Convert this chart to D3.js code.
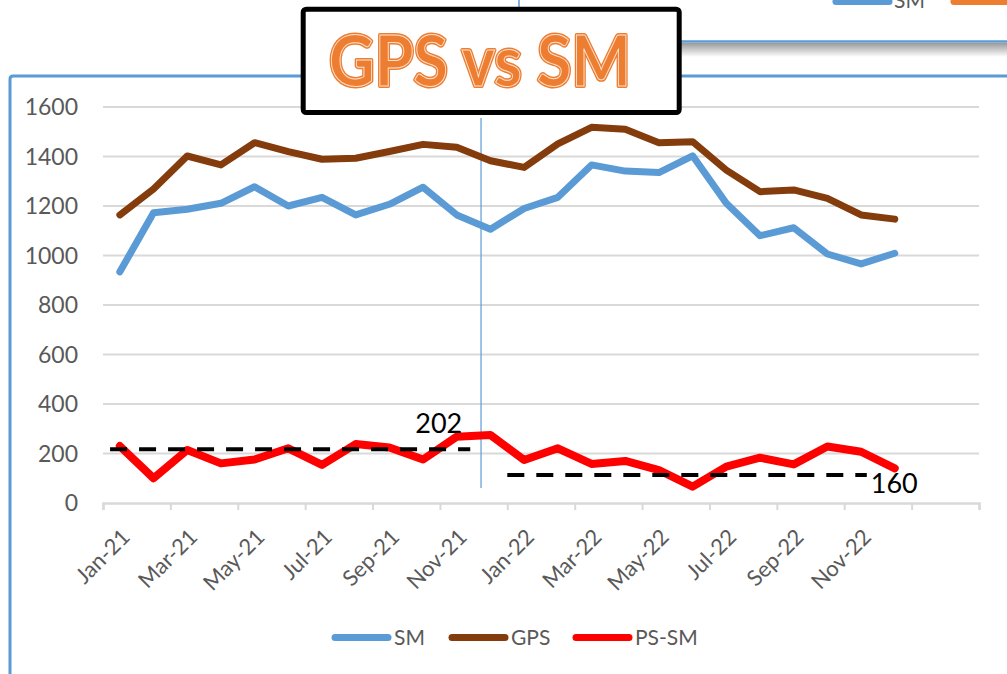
<!DOCTYPE html>
<html>
<head>
<meta charset="utf-8">
<script src="https://cdn.jsdelivr.net/npm/d3@7"></script>
<style>
  html, body { margin: 0; padding: 0; background: #ffffff; }
  svg { display: block; }
</style>
</head>
<body>
<svg id="chart" width="1007" height="674"></svg>
<script>
// ---------- data ----------
const months = ["Jan-21","Feb-21","Mar-21","Apr-21","May-21","Jun-21","Jul-21","Aug-21","Sep-21","Oct-21","Nov-21","Dec-21",
                "Jan-22","Feb-22","Mar-22","Apr-22","May-22","Jun-22","Jul-22","Aug-22","Sep-22","Oct-22","Nov-22","Dec-22"];
const smValues  = [934,1173,1187,1211,1278,1200,1235,1164,1207,1276,1164,1106,
                   1190,1235,1366,1341,1335,1403,1211,1080,1112,1006,966,1009];
const gpsValues = [1164,1269,1402,1366,1456,1420,1389,1393,1420,1449,1437,1383,
                   1356,1451,1518,1510,1456,1460,1345,1258,1265,1231,1164,1147];
const psSmValues = [230,100,214,160,176,221,154,238,224,176,268,275,
                    174,221,158,170,133,66,147,183,156,228,207,140];
const seriesNames = ["SM","GPS","PS-SM"];
const yTicks = [0,200,400,600,800,1000,1200,1400,1600];
const xTickLabels = ["Jan-21","Mar-21","May-21","Jul-21","Sep-21","Nov-21",
                     "Jan-22","Mar-22","May-22","Jul-22","Sep-22","Nov-22"];
// average reference lines (value, start/end in month units from Jan-21)
const avgLabels = ["202","160"];
const avgValues = [217,113];
const avgStart  = [0.21,12.0];
const avgEnd    = [10.9,22.67];
const titleText = "GPS vs SM";
const splitMonth = 11.22; // separator between 2021 and 2022 (month units)

// ---------- setup ----------
const svg = d3.select("#chart");
const colors = {SM:"#5B9BD5", GPS:"#843C0C", "PS-SM":"#FF0000"};
const textGrey = "#595959";
const gridGrey = "#D9D9D9";
const fontFam = "Lato, 'Open Sans', sans-serif";

const x = d3.scaleLinear().domain([0, 26]).range([103, 979]);
const y = d3.scaleLinear().domain([0, 1600]).range([503, 107]);

// ---------- background chart fragments (behind) ----------
const defs = svg.append("defs");
const grad = defs.append("linearGradient").attr("id","shadow").attr("x1",0).attr("y1",0).attr("x2",0).attr("y2",1);
grad.append("stop").attr("offset","0%").attr("stop-color","#9a9a9a");
grad.append("stop").attr("offset","100%").attr("stop-color","#ffffff");
svg.append("rect").attr("x",681).attr("y",43).attr("width",326).attr("height",14).attr("fill","url(#shadow)");
svg.append("line").attr("x1",681).attr("x2",1007).attr("y1",41.5).attr("y2",41.5)
  .attr("stroke","#5B9BD5").attr("stroke-width",2.5);
svg.append("line").attr("x1",519).attr("x2",519).attr("y1",0).attr("y2",12)
  .attr("stroke","#5B9BD5").attr("stroke-width",1.5);
// legend fragment of other chart
svg.append("line").attr("x1",836).attr("x2",889).attr("y1",1.5).attr("y2",1.5)
  .attr("stroke","#5B9BD5").attr("stroke-width",7).attr("stroke-linecap","round");
svg.append("text").attr("x",894).attr("y",8).text("SM")
  .attr("font-family",fontFam).attr("font-size",21).attr("fill",textGrey);
svg.append("line").attr("x1",954).attr("x2",1015).attr("y1",1.5).attr("y2",1.5)
  .attr("stroke","#ED7D31").attr("stroke-width",7).attr("stroke-linecap","round");

// plot frame
svg.append("path").attr("d","M10,674 L10,79 Q10,76 13,76 L1007,76")
  .attr("fill","none").attr("stroke","#5B9BD5").attr("stroke-width",3);

// ---------- gridlines ----------
svg.append("g").selectAll("line").data(yTicks.filter(d => d > 0)).join("line")
  .attr("x1", x(0)).attr("x2", x(26))
  .attr("y1", d => y(d)).attr("y2", d => y(d))
  .attr("stroke", gridGrey).attr("stroke-width", 2);

// y axis labels
svg.append("g").selectAll("text").data(yTicks).join("text")
  .attr("x", 78).attr("y", d => y(d)).attr("dy","0.35em")
  .attr("text-anchor","end")
  .attr("font-family",fontFam).attr("font-size",23).attr("fill",textGrey)
  .text(d => d);

// x axis line and ticks
const xAxis = d3.axisBottom(x).tickValues(d3.range(0, 27, 2)).tickSize(7).tickFormat("");
const gx = svg.append("g").attr("transform", `translate(0,${y(0)})`).call(xAxis);
gx.select(".domain").attr("stroke", gridGrey).attr("stroke-width", 2.5);
gx.selectAll(".tick line").attr("stroke", gridGrey).attr("stroke-width", 2);

// x labels
svg.append("g").selectAll("text").data(xTickLabels).join("text")
  .attr("transform", (d,i) => `translate(${x(i*2 + 0.5) + 6},${533}) rotate(-45)`)
  .attr("text-anchor","end").attr("dy","0.35em")
  .attr("font-family",fontFam).attr("font-size",22).attr("fill",textGrey)
  .text(d => d);

// separator line
svg.append("line").attr("x1", x(splitMonth)).attr("x2", x(splitMonth))
  .attr("y1", 118).attr("y2", 488)
  .attr("stroke","#5B9BD5").attr("stroke-width",1.2);

// ---------- series ----------
const line = d3.line().x((d,i) => x(i + 0.5)).y(d => y(d));
const series = [
  {name:"SM", values: smValues, w:7},
  {name:"GPS", values: gpsValues, w:7},
  {name:"PS-SM", values: psSmValues, w:8}
];
svg.append("g").selectAll("path").data(series).join("path")
  .attr("d", d => line(d.values))
  .attr("fill","none").attr("stroke", d => colors[d.name]).attr("stroke-width", d => d.w)
  .attr("stroke-linejoin","round").attr("stroke-linecap","round");

// ---------- average dashed lines ----------
avgValues.forEach((v, i) => {
  svg.append("line")
    .attr("x1", x(avgStart[i])).attr("x2", x(avgEnd[i]))
    .attr("y1", y(v)).attr("y2", y(v))
    .attr("stroke","#000").attr("stroke-width",4).attr("stroke-dasharray","17,12");
  const above = i === 0;
  svg.append("text")
    .attr("x", above ? x(avgEnd[i]) - 8 : x(avgEnd[i]) + 4)
    .attr("y", above ? y(v) - 16 : y(v) + 18)
    .attr("text-anchor", above ? "end" : "start")
    .attr("font-family",fontFam).attr("font-size",27).attr("fill","#000")
    .text(avgLabels[i]);
});

// ---------- legend ----------
const legendX = [332, 449, 573];
const lg = svg.append("g");
seriesNames.forEach((n, i) => {
  lg.append("line").attr("x1", legendX[i]+3).attr("x2", legendX[i]+56)
    .attr("y1", 637.5).attr("y2", 637.5)
    .attr("stroke", colors[n]).attr("stroke-width", 7).attr("stroke-linecap","round");
  lg.append("text").attr("x", legendX[i]+62).attr("y", 637.5).attr("dy","0.36em")
    .attr("font-family",fontFam).attr("font-size",21).attr("fill",textGrey).text(n);
});

// ---------- title box ----------
svg.append("rect").attr("x",303.2).attr("y",9.2).attr("width",376).attr("height",103.3)
  .attr("rx",3).attr("fill","#fff").attr("stroke","#000").attr("stroke-width",5);
const tt = svg.append("g").attr("font-family", fontFam).attr("font-weight",700).attr("font-size",71);
tt.append("text").attr("x",329).attr("y",86).attr("textLength",302).attr("lengthAdjust","spacingAndGlyphs")
  .attr("fill","#ED7D31").attr("stroke","#ED7D31").attr("stroke-width",4).attr("stroke-linejoin","round")
  .text(titleText);
tt.append("text").attr("x",329).attr("y",86).attr("textLength",302).attr("lengthAdjust","spacingAndGlyphs")
  .attr("fill","#ED7D31").attr("stroke","#FBE0CC").attr("stroke-width",1)
  .text(titleText);
</script>
</body>
</html>
